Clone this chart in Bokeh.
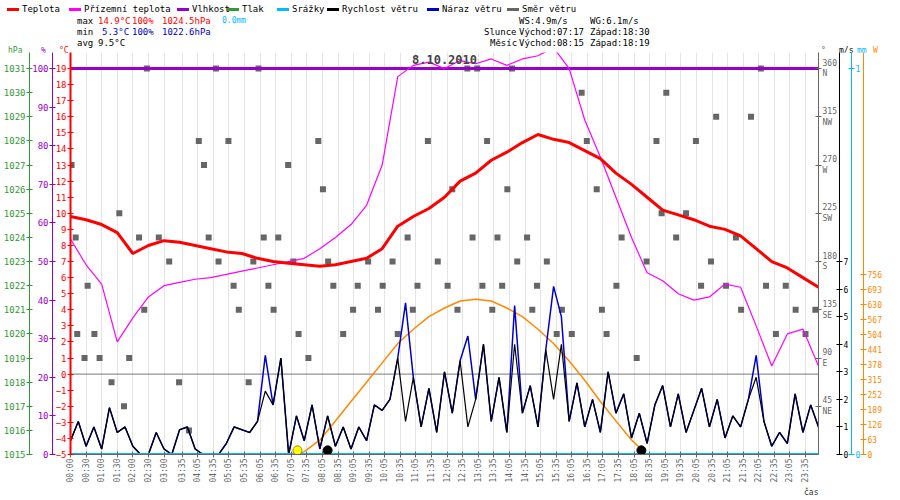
from bokeh.plotting import figure
from bokeh.models import Range1d, LinearAxis, FixedTicker, Label, Title, Div
from bokeh.layouts import column
from bokeh.embed import file_html
from bokeh.resources import INLINE

FONT = "DejaVu Sans Mono"

# time in minutes since midnight
temp_t = list(range(0, 1441, 30))
temp = [9.8, 9.6, 9.3, 8.8, 7.5, 8.0, 8.3, 8.2, 8.0, 7.8, 7.6, 7.5, 7.2, 7.0, 6.9, 6.8, 6.7,
        6.8, 7.0, 7.2, 7.8, 9.2, 9.8, 10.3, 11.0, 12.0, 12.5, 13.3, 13.8, 14.4, 14.9, 14.6,
        14.4, 13.9, 13.4, 12.5, 11.8, 11.0, 10.2, 9.9, 9.6, 9.2, 9.0, 8.6, 7.8, 7.0, 6.6, 6.0, 5.4]
ground = [8.4, 6.8, 5.6, 2.0, 3.5, 4.8, 5.5, 5.7, 5.9, 6.0, 6.2, 6.4, 6.6, 6.8, 7.0, 7.2, 7.8,
          8.5, 9.3, 10.5, 13.0, 18.5, 19.2, 19.4, 19.0, 19.5, 19.3, 19.6, 19.2, 19.6, 19.8, 20.3,
          19.0, 15.8, 13.5, 11.0, 8.5, 6.3, 5.8, 5.0, 4.6, 4.8, 5.6, 5.4, 3.0, 0.5, 2.5, 2.8, 0.5]
humidity = [100, 100]
humidity_t = [0, 1440]

wind_t = list(range(0, 1441, 15))
wind = [0.5, 1.2, 0.3, 1.0, 0.2, 1.7, 0.8, 1.0, 0.3,
        0.0, 0.0, 0.8, 0.2, 0.0, 0.9, 1.0, 0.2,
        0.0, 0.0, 0.0, 0.4, 1.0, 0.9, 0.8, 1.2,
        2.3, 1.8, 3.5, 0.0, 1.4, 0.5, 1.8, 0.2,
        1.4, 0.3, 1.0, 0.2, 1.0, 0.5, 1.8, 1.6,
        2.0, 3.5, 1.2, 2.8, 1.0, 2.4, 0.8, 3.0,
        1.5, 3.4, 1.0, 2.0, 4.0, 1.2, 2.8, 0.8,
        4.0, 1.5, 2.5, 1.0, 3.8, 2.0, 4.0, 1.2,
        2.6, 1.0, 2.0, 0.8, 3.0, 1.5, 2.2, 0.6,
        1.5, 0.4, 1.8, 2.5, 1.0, 2.2, 0.8, 1.6,
        2.4, 1.0, 2.0, 0.6, 1.4, 1.0, 2.0, 2.8,
        1.2, 0.3, 0.8, 0.4, 2.2, 0.8, 1.8, 1.0]
gust = [0.5, 1.2, 0.3, 1.0, 0.2, 1.7, 0.8, 1.0, 0.3,
        0.0, 0.0, 0.8, 0.2, 0.0, 0.9, 1.0, 0.2,
        0.0, 0.0, 0.0, 0.4, 1.0, 0.9, 0.8, 1.2,
        3.6, 1.8, 3.5, 0.0, 1.4, 0.5, 1.8, 0.2,
        1.4, 0.3, 1.0, 0.2, 1.0, 0.5, 1.8, 1.6,
        2.0, 3.5, 5.5, 2.8, 1.0, 2.4, 0.8, 3.0,
        1.5, 3.4, 4.3, 2.0, 4.0, 1.2, 2.8, 0.8,
        5.4, 1.5, 2.5, 1.0, 3.8, 6.1, 5.0, 1.2,
        2.6, 1.0, 2.0, 0.8, 3.0, 1.5, 2.2, 0.6,
        1.5, 0.4, 1.8, 2.5, 1.0, 2.2, 0.8, 1.6,
        2.4, 1.0, 2.0, 0.6, 1.4, 1.0, 2.0, 3.6,
        1.2, 0.3, 0.8, 0.4, 2.2, 0.8, 1.8, 1.0]

dir_t = [2, 10, 13, 27, 33, 46, 56, 79, 94, 103, 113,
         132, 142, 147, 170, 190, 209, 228, 247, 257, 266, 280, 285, 304, 314, 324, 343, 352,
         362, 372, 381, 391, 400, 419, 429, 439, 458, 477, 486, 496, 506, 525, 544, 553, 573,
         592, 601, 620, 630, 649, 659, 668, 688, 707, 726, 735, 745, 764, 774, 783, 793,
         802, 812, 822, 831, 841, 850, 860, 879, 889, 898, 917, 936, 946, 965,
         984, 994, 1013, 1023, 1032, 1051, 1061, 1090, 1109, 1128, 1138, 1147, 1166, 1185, 1204, 1214, 1233,
         1243, 1262, 1281, 1291, 1310, 1329, 1339, 1358, 1377, 1396, 1415, 1434]
dir_deg = [270, 202.5, 112.5, 90, 157.5, 112.5, 90, 67.5, 225, 45, 90,
           202.5, 135, 360, 202.5, 180, 67.5, 22.5, 292.5, 270, 202.5, 360, 180, 292.5, 157.5, 135, 67.5, 180,
           360, 202.5, 157.5, 135, 202.5, 270, 180, 112.5, 90, 292.5, 247.5, 180, 157.5, 112.5, 135, 157.5, 180,
           135, 157.5, 180, 112.5, 202.5, 135, 157.5, 292.5, 180, 157.5, 247.5, 135, 360, 202.5, 360, 157.5,
           292.5, 135, 202.5, 157.5, 247.5, 360, 180, 202.5, 135, 157.5, 180, 112.5, 135, 112.5,
           337.5, 292.5, 247.5, 135, 112.5, 157.5, 202.5, 90, 180, 292.5, 225, 337.5, 202.5, 225, 292.5, 157.5, 180,
           315, 157.5, 202.5, 135, 315, 360, 157.5, 112.5, 157.5, 135, 112.5, 135]

solar_t = [437] + list(range(450, 1111, 30))
solar = [0, 12, 60, 140, 222, 303, 384, 465, 525, 578, 614, 643, 651, 643, 614, 578, 525,
         465, 392, 311, 222, 141, 61, 0]

sun_rise, moon_rise, moon_set = 437, 495, 1099

tick_labels = ["00:00", "00:30", "01:00", "01:30", "02:00", "02:30", "03:00"] + \
    ["%02d:%02d" % divmod(m, 60) for m in range(215, 1440, 30)]

legend_names = ["Teplota", "Přízemní teplota", "Vlhkost", "Tlak", "Srážky",
                "Rychlost větru", "Náraz větru", "Směr větru"]
legend_colors = ["#ff0000", "#ff00ff", "#9900cc", "#339933", "#00bbff", "black", "#0000cc", "#666666"]

# ---------------- header strip (HTML) ----------------
W = 884

def span(x, y, s, color="black", size=9):
    return ('<span style="position:absolute;left:%dpx;top:%dpx;color:%s;font-size:%dpx;'
            'font-family:\'DejaVu Sans Mono\',monospace;white-space:pre;line-height:1">%s</span>'
            % (x, y, color, size, s))

parts = []
leg_x = [2, 64, 172, 222, 272, 322, 422, 502]
for name, col, x in zip(legend_names, legend_colors, leg_x):
    parts.append('<span style="position:absolute;left:%dpx;top:3px;width:12px;height:3px;'
                 'background:%s"></span>' % (x, col))
    parts.append(span(x + 15, 0, name, "black", 9))
rows = [(72, 12, "max", "black"), (93, 12, "14.9°C", "#ff0000"), (127, 12, "100%", "#ff0000"),
        (157, 12, "1024.5hPa", "#ff0000"), (217, 12, "0.0mm", "#00bbff"),
        (72, 23, "min", "black"), (97, 23, "5.3°C", "#0000cc"), (127, 23, "100%", "#0000cc"),
        (157, 23, "1022.6hPa", "#0000cc"),
        (72, 34, "avg", "black"), (93, 34, "9.5°C", "black"),
        (514, 12, "WS:4.9m/s", "black"), (585, 12, "WG:6.1m/s", "black"),
        (479, 23, "Slunce", "black"), (514, 23, "Východ:07:17", "black"), (585, 23, "Západ:18:30", "black"),
        (485, 34, "Měsíc", "black"), (514, 34, "Východ:08:15", "black"), (585, 34, "Západ:18:19", "black")]
for x, y, s, c in rows:
    parts.append(span(x, y, s, c, 8 if s == "0.0mm" else 9))
for lab, col, x in [("hPa", "#339933", 3), ("%", "#9900cc", 36), ("°C", "#ff0000", 54),
                    ("°", "#666666", 816), ("m/s", "black", 834), ("mm", "#00bbff", 852),
                    ("W", "#ff8800", 868)]:
    parts.append(span(x, 42, lab, col, 8))

header = Div(text='<div style="position:relative;width:%dpx;height:42px">%s</div>'
             % (W, "".join(parts)), width=W, height=42)

# ---------------- main chart ----------------
top = 20.0
p = figure(width=W, height=444, output_backend="svg", toolbar_location=None,
           x_range=Range1d(0, 1440), y_range=Range1d(-5, top),
           min_border_left=6, min_border_right=4, min_border_top=0, min_border_bottom=28)
p.outline_line_color = None
p.background_fill_color = "white"
p.extra_y_ranges = {"hum": Range1d(0, (top + 5) * 100 / 24), "hpa": Range1d(1015, 1015 + (top + 5) * 16 / 24),
                    "dir": Range1d(0, (top + 5) * 15), "ms": Range1d(0, (top + 5) * 7 / 12),
                    "mm": Range1d(0, (top + 5) / 24), "w": Range1d(0, (top + 5) * 67.38)}

def style(ax, color, lw=1, size="9px"):
    ax.axis_line_color = color
    ax.axis_line_width = lw
    ax.major_tick_line_color = color
    ax.major_label_text_color = color
    ax.major_label_text_font = FONT
    ax.major_label_text_font_size = size
    ax.major_tick_in = 3
    ax.major_tick_out = 3
    ax.minor_tick_line_color = None
    ax.major_label_standoff = 1

yax = p.yaxis[0]
yax.ticker = FixedTicker(ticks=list(range(-5, 20)))
style(yax, "#ff0000", 2)

ax_h = LinearAxis(y_range_name="hum", ticker=FixedTicker(ticks=list(range(0, 101, 10))))
style(ax_h, "#9900cc")
p.add_layout(ax_h, "left")
ax_p = LinearAxis(y_range_name="hpa", ticker=FixedTicker(ticks=list(range(1015, 1032))))
style(ax_p, "#339933")
p.add_layout(ax_p, "left")

ax_d = LinearAxis(y_range_name="dir", ticker=FixedTicker(ticks=[45, 90, 135, 180, 225, 270, 315, 360]))
style(ax_d, "#666666", size="8px")
ax_d.major_label_overrides = {45: "45\nNE", 90: "90\nE", 135: "135\nSE", 180: "180\nS",
                              225: "225\nSW", 270: "270\nW", 315: "315\nNW", 360: "360\nN"}
p.add_layout(ax_d, "right")
ax_m = LinearAxis(y_range_name="ms", ticker=FixedTicker(ticks=list(range(0, 8))))
style(ax_m, "black", size="8px")
p.add_layout(ax_m, "right")
ax_r = LinearAxis(y_range_name="mm", ticker=FixedTicker(ticks=[0, 1]))
style(ax_r, "#00bbff", size="8px")
p.add_layout(ax_r, "right")
ax_w = LinearAxis(y_range_name="w", ticker=FixedTicker(ticks=list(range(0, 757, 63))))
style(ax_w, "#ff8800", size="8px")
p.add_layout(ax_w, "right")

xax = p.xaxis[0]
ticks = list(range(0, 181, 30)) + list(range(215, 1440, 30))
xax.ticker = FixedTicker(ticks=ticks)
xax.major_label_overrides = dict(zip(ticks, tick_labels))
xax.major_label_orientation = 1.5708
style(xax, "#666666", size="8px")
p.xgrid.ticker = FixedTicker(ticks=ticks)
p.xgrid.grid_line_color = "#e4e4e4"
p.ygrid.grid_line_color = None

p.line([0, 1440], [0, 0], line_color="#777777", line_width=1)
p.line(solar_t, solar, y_range_name="w", line_color="#ff8800", line_width=1.5)
p.rect(dir_t, dir_deg, width=6, height=6, width_units="screen", height_units="screen",
       y_range_name="dir", fill_color="#666666", line_color=None)
p.line(wind_t, gust, y_range_name="ms", line_color="#0000cc", line_width=1.5)
p.line(wind_t, wind, y_range_name="ms", line_color="black", line_width=1.2)
p.line(humidity_t, humidity, y_range_name="hum", line_color="#9900cc", line_width=3)
p.line(temp_t, ground, line_color="#ff00ff", line_width=1.2)
p.line(temp_t, temp, line_color="#ff0000", line_width=3)
p.line([0, 1440], [0, 0], y_range_name="mm", line_color="#00bbff", line_width=3)
p.scatter([sun_rise], [0.15], y_range_name="ms", size=9, fill_color="yellow", line_color="#aa8800")
p.scatter([moon_rise, moon_set], [0.15, 0.15], y_range_name="ms", size=9, fill_color="black",
          line_color="black")

p.add_layout(Label(x=720, y=19.55, text="8.10.2010", text_align="center", text_font=FONT,
                   text_font_size="12px", text_font_style="bold", text_baseline="middle"))

cas = Title(text="čas", align="right", text_font=FONT, text_font_size="8px",
            text_font_style="normal", text_color="#333333", standoff=0)
p.add_layout(cas, "below")

open("out.html", "w").write(file_html(column(header, p, spacing=0), INLINE))
